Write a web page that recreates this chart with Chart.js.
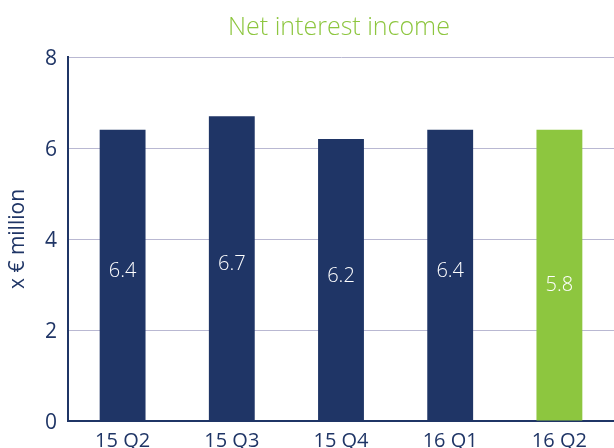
<!DOCTYPE html>
<html>
<head>
<meta charset="utf-8">
<script src="https://cdn.jsdelivr.net/npm/chart.js@4/dist/chart.umd.min.js"></script>
<style>
  html, body { margin: 0; padding: 0; background: #ffffff; }
  #wrap { width: 614px; height: 448px; position: relative; }
</style>
</head>
<body>
<div id="wrap"><canvas id="c" width="614" height="448"></canvas></div>
<script>
const categories = ["15 Q2", "15 Q3", "15 Q4", "16 Q1", "16 Q2"];
const barHeights = [6.4, 6.7, 6.2, 6.4, 6.4];
const barLabels = ["6.4", "6.7", "6.2", "6.4", "5.8"];
const yTicks = [0, 2, 4, 6, 8];
const titleText = "Net interest income";
const yAxisTitle = "x € million";

const NAVY = "#1f3566";
const GREEN = "#8dc63f";
const GRID = "#b9b8d2";
const FONT = "'Open Sans', 'DejaVu Sans', sans-serif";

const barColors = categories.map((c, i) => i === categories.length - 1 ? GREEN : NAVY);

const titlePlugin = {
  id: 'centeredTitle',
  afterDraw(chart) {
    const ctx = chart.ctx;
    const a = chart.chartArea;
    ctx.save();
    ctx.font = "300 25px " + FONT;
    ctx.fillStyle = GREEN;
    ctx.textAlign = 'center';
    ctx.textBaseline = 'alphabetic';
    ctx.fillText(titleText, (a.left + a.right) / 2 - 2, 35);
    ctx.restore();
  }
};

const labelPlugin = {
  id: 'barLabels',
  afterDatasetsDraw(chart) {
    const ctx = chart.ctx;
    const meta = chart.getDatasetMeta(0);
    const yScale = chart.scales.y;
    ctx.save();
    ctx.font = "300 20px " + FONT;
    ctx.fillStyle = "#ffffff";
    ctx.textAlign = 'center';
    ctx.textBaseline = 'middle';
    meta.data.forEach((bar, i) => {
      const y = yScale.getPixelForValue(parseFloat(barLabels[i]) / 2) - 4;
      ctx.fillText(barLabels[i], bar.x, y);
    });
    ctx.restore();
  }
};

new Chart(document.getElementById('c'), {
  type: 'bar',
  data: {
    labels: categories,
    datasets: [{
      data: barHeights,
      backgroundColor: barColors,
      borderWidth: 0,
      barPercentage: 0.42,
      categoryPercentage: 1.0
    }]
  },
  options: {
    responsive: false,
    animation: false,
    devicePixelRatio: 1,
    layout: { padding: { top: 57, right: 0, left: 0, bottom: 0 } },
    plugins: {
      legend: { display: false },
      title: { display: false },
      tooltip: { enabled: false }
    },
    scales: {
      x: {
        grid: { display: false, drawTicks: false },
        border: { display: true, color: NAVY, width: 2 },
        ticks: {
          color: NAVY,
          font: { family: FONT, size: 20 },
          padding: 8,
          maxRotation: 0
        },
        afterFit(scale) { scale.height = 27; }
      },
      y: {
        min: 0,
        max: 8,
        afterBuildTicks(scale) { scale.ticks = yTicks.map(v => ({ value: v })); },
        grid: { color: GRID, lineWidth: 1, drawTicks: false },
        border: { display: true, color: NAVY, width: 2 },
        ticks: {
          color: NAVY,
          font: { family: FONT, size: 21 },
          padding: 11,
          labelOffset: 2
        },
        title: {
          display: true,
          text: yAxisTitle,
          color: NAVY,
          font: { family: FONT, size: 21 },
          padding: { top: 5, bottom: 0 }
        },
        afterFit(scale) { scale.width = 68; }
      }
    }
  },
  plugins: [titlePlugin, labelPlugin]
});
</script>
</body>
</html>
